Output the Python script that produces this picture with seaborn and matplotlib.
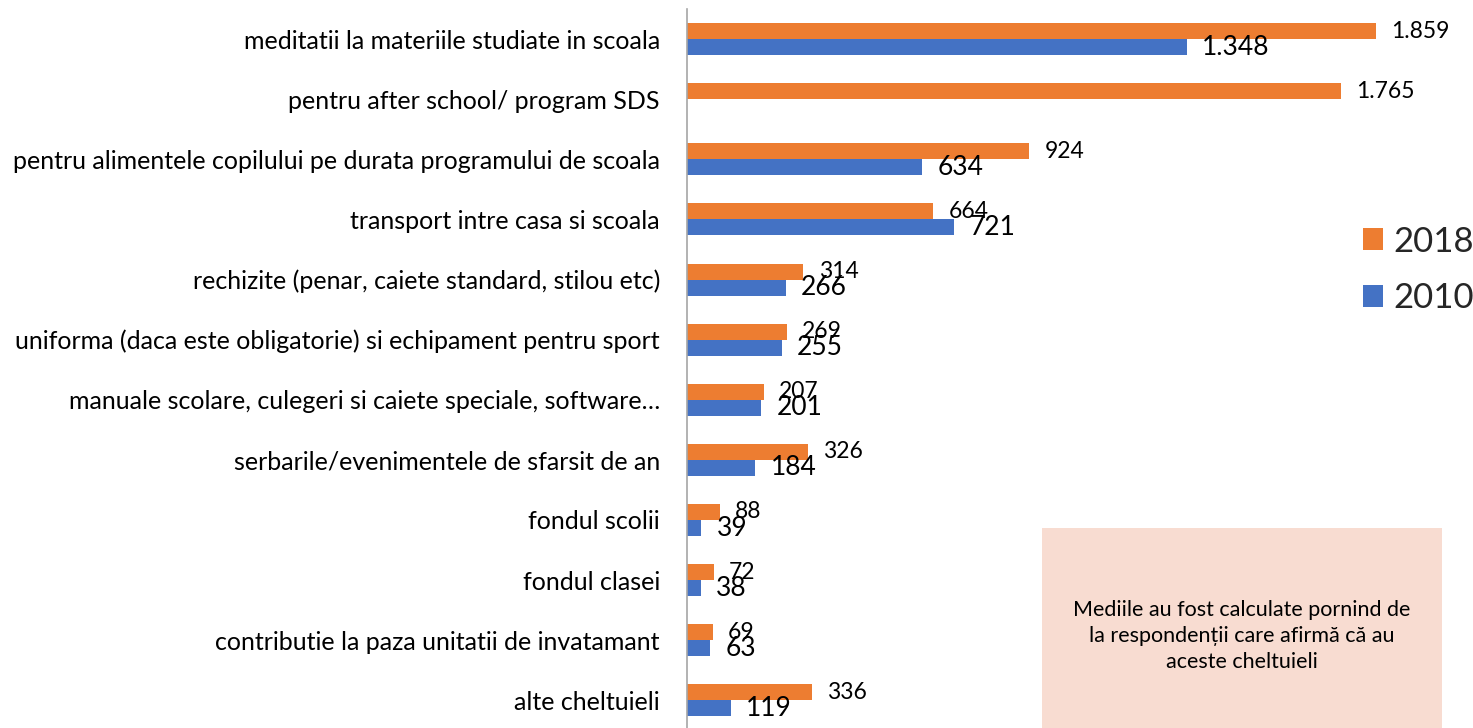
import numpy as np
import pandas as pd
import matplotlib
matplotlib.use("Agg")
import matplotlib.pyplot as plt
import seaborn as sns
from matplotlib.patches import Rectangle

categories = [
    "meditatii la materiile studiate in scoala",
    "pentru after school/ program SDS",
    "pentru alimentele copilului pe durata programului de scoala",
    "transport intre casa si scoala",
    "rechizite (penar, caiete standard, stilou etc)",
    "uniforma (daca este obligatorie) si echipament pentru sport",
    "manuale scolare, culegeri si caiete speciale, software…",
    "serbarile/evenimentele de sfarsit de an",
    "fondul scolii",
    "fondul clasei",
    "contributie la paza unitatii de invatamant",
    "alte cheltuieli",
]
values_2018 = [1859, 1765, 924, 664, 314, 269, 207, 326, 88, 72, 69, 336]
values_2010 = [1348, np.nan, 634, 721, 266, 255, 201, 184, 39, 38, 63, 119]
years = ["2018", "2010"]
note = "Mediile au fost calculate pornind de\nla respondenții care afirmă că au\naceste cheltuieli"

df = pd.DataFrame({
    "categorie": categories * 2,
    "an": ["2018"] * len(categories) + ["2010"] * len(categories),
    "valoare": values_2018 + values_2010,
})

colors = {"2018": "#ED7D31", "2010": "#4472C4"}
W, H = 1473, 728

sns.set_theme(style="white")
plt.rcParams["font.family"] = ["Lato", "DejaVu Sans"]

fig = plt.figure(figsize=(W / 100, H / 100), dpi=100)
ax = fig.add_axes([687 / W, 0, (W - 687) / W, (H - 9) / H])

sns.barplot(data=df, y="categorie", x="valoare", hue="an", hue_order=years,
            palette=colors, orient="h", width=0.533, ax=ax, legend=True,
            saturation=1, linewidth=0)

ax.set_xlim(0, (W - 687) / 0.3706)
ax.set_ylim(11.46, -0.5)
ax.set_xlabel("")
ax.set_ylabel("")
ax.set_xticks([])
ax.tick_params(axis="y", length=0, pad=19.5, labelsize=18, labelcolor="#000000")
for s in ["top", "right", "bottom"]:
    ax.spines[s].set_visible(False)
ax.spines["left"].set_color("#A6A6A6")
ax.spines["left"].set_linewidth(1.2)

# value labels, 2018 slightly smaller than 2010
for year in years:
    vals = values_2018 if year == "2018" else values_2010
    dy = -0.1333 if year == "2018" else 0.1333
    fs = 16.5 if year == "2018" else 19
    for i, v in enumerate(vals):
        if np.isnan(v):
            continue
        txt = f"{int(v):,}".replace(",", ".")
        ax.annotate(txt, (v, i + dy), xytext=(11, 0), textcoords="offset points",
                    ha="left", va="center", fontsize=fs, color="#000000")

# legend
handles, labels = ax.get_legend_handles_labels()
ax.legend(handles, labels, loc="center left", bbox_to_anchor=(1363 / W, (H - 270) / H),
          bbox_transform=fig.transFigure, frameon=False, fontsize=25,
          handlelength=0.58, handleheight=0.58, handletextpad=0.3, labelspacing=0.72,
          borderpad=0, borderaxespad=0)

# note box
fig.patches.append(Rectangle((1042 / W, 0), 400 / W, (H - 528) / H,
                             transform=fig.transFigure, facecolor="#F8DCD1",
                             edgecolor="none", zorder=0))
fig.text(1242 / W, (H - 636) / H, note, ha="center", va="center", fontsize=15.5,
         linespacing=1.35, color="#000000")

fig.savefig("out.png", dpi=100)
